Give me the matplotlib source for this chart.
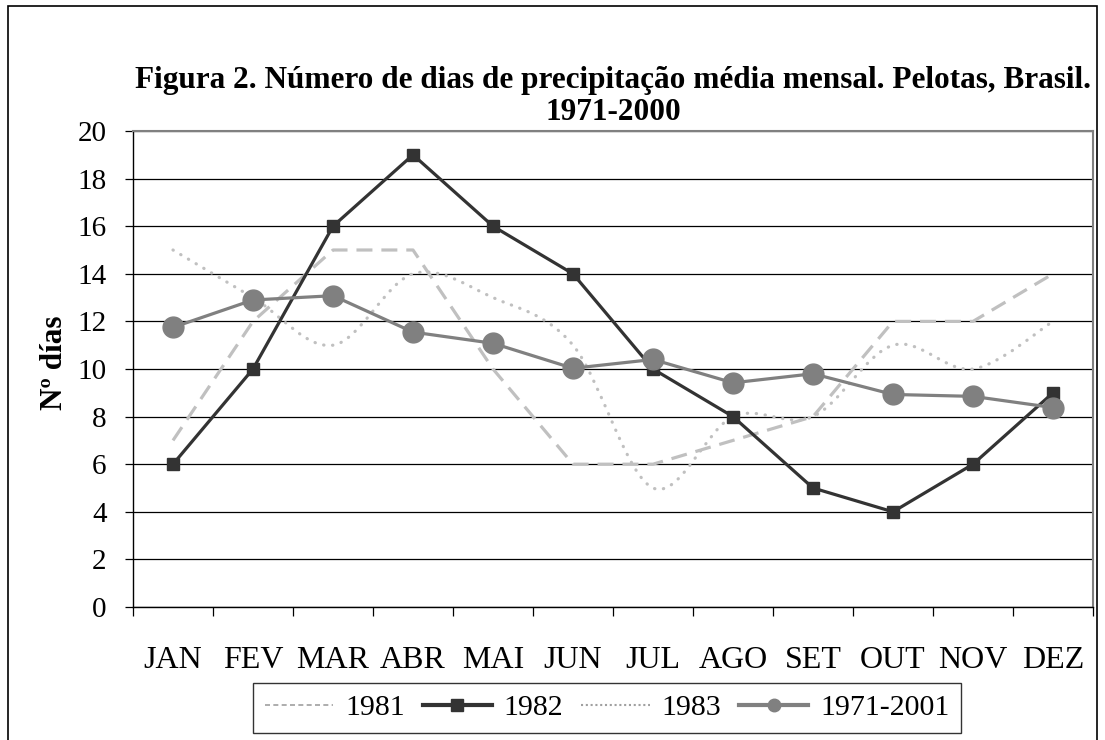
import matplotlib
matplotlib.use("Agg")
import matplotlib.pyplot as plt
from matplotlib.lines import Line2D
from matplotlib.path import Path
from matplotlib.patches import PathPatch, Rectangle
import numpy as np

plt.rcParams['font.family'] = ['Liberation Serif', 'DejaVu Serif']

months = ["JAN", "FEV", "MAR", "ABR", "MAI", "JUN", "JUL", "AGO", "SET", "OUT", "NOV", "DEZ"]
s1981 = [7, 12, 15, 15, 10, 6, 6, 7, 8, 12, 12, 14]
s1982 = [6, 10, 16, 19, 16, 14, 10, 8, 5, 4, 6, 9]
s1983 = [15, 13, 11, 14, 13, 11, 5, 8, 8, 11, 10, 12]
s_avg = [11.75, 12.9, 13.08, 11.55, 11.08, 10.03, 10.4, 9.42, 9.8, 8.93, 8.85, 8.38]

yticks = list(range(0, 21, 2))
title = "Figura 2. Número de dias de precipitação média mensal. Pelotas, Brasil.\n1971-2000"
ylabel = "Nº días"
labels = ["1981", "1982", "1983", "1971-2001"]

W, H = 1105, 740
fig = plt.figure(figsize=(W / 100, H / 100), dpi=100)
ax = fig.add_axes([133 / W, 1 - 607 / H, 960 / W, 476 / H])

x = np.arange(len(months))

c81, c82, c83, cav = "#c0c0c0", "#333333", "#c0c0c0", "#808080"

ax.plot(x, s1981, color=c81, lw=2.3, dashes=(5, 2.8), zorder=3)
ax.plot(x, s1982, color=c82, lw=2.3, marker="s", markersize=9, zorder=4)

# smoothed curve for 1983 (Bezier through the data points)
pts = np.column_stack([x, s1983]).astype(float)
verts = [tuple(pts[0])]
codes = [Path.MOVETO]
n = len(pts)
for i in range(n - 1):
    p0 = pts[i - 1] if i > 0 else pts[i]
    p1 = pts[i]
    p2 = pts[i + 1]
    p3 = pts[i + 2] if i + 2 < n else pts[i + 1]
    c1 = p1 + (p2 - p0) / 6.0
    c2 = p2 - (p3 - p1) / 6.0
    verts += [tuple(c1), tuple(c2), tuple(p2)]
    codes += [Path.CURVE4] * 3
patch = PathPatch(Path(verts, codes), fill=False, edgecolor=c83, lw=2.3,
                  linestyle=(0, (0.1, 2.7)), capstyle="round", zorder=3.5)
ax.add_patch(patch)

ax.plot(x, s_avg, color=cav, lw=2.3, marker="o", markersize=15, zorder=5)

ax.set_xlim(-0.5, len(months) - 0.5)
ax.set_ylim(0, 20)
ax.set_yticks(yticks)
ax.yaxis.grid(True, color="black", lw=0.9)
ax.set_axisbelow(True)

ax.set_xticks(np.arange(-0.5, len(months), 1.0))
ax.set_xticklabels([])
ax.set_xticks(x, minor=True)
ax.set_xticklabels(months, minor=True)
ax.tick_params(axis="x", which="major", length=6.5, width=0.9, direction="out", color="black")
ax.tick_params(axis="x", which="minor", length=0, pad=28, labelsize=23)
ax.tick_params(axis="y", length=6, width=0.9, direction="out", pad=13, labelsize=21)

for s in ["left", "bottom"]:
    ax.spines[s].set_color("black")
    ax.spines[s].set_linewidth(1.0)
for s in ["top", "right"]:
    ax.spines[s].set_color("#808080")
    ax.spines[s].set_linewidth(1.5)

ax.set_title(title, fontsize=22.5, fontweight="bold", pad=8, linespacing=1.12)
fig.text(55 / W, 1 - 363 / H, ylabel, rotation=90, ha="center", va="center",
         fontsize=22.5, fontweight="bold")

handles = [
    Line2D([], [], color="#a0a0a0", lw=1.2, dashes=(3, 2)),
    Line2D([], [], color=c82, lw=3, marker="s", markersize=8),
    Line2D([], [], color="#a0a0a0", lw=1.5, linestyle=(0, (1, 1.3))),
    Line2D([], [], color=cav, lw=3, marker="o", markersize=9),
]
leg = fig.legend(handles, labels, loc="center", bbox_to_anchor=(607 / W, 1 - 708 / H),
                 ncol=4, fontsize=21.5, frameon=True, fancybox=False, handlelength=2.3,
                 handletextpad=0.4, columnspacing=0.6, borderpad=0.4, borderaxespad=0)
leg.get_frame().set_edgecolor("black")
leg.get_frame().set_linewidth(1.0)

fig.patches.append(Rectangle((8 / W, -0.1), (1097 - 8) / W, 1.1 - 6 / H, transform=fig.transFigure,
                             fill=False, edgecolor="black", lw=1.2))

fig.savefig("out.png", dpi=100)
